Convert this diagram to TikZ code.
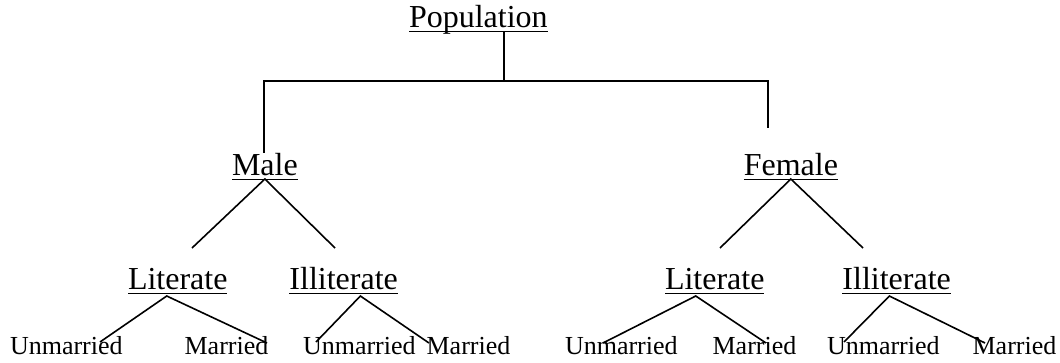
\documentclass[tikz,border=0pt]{standalone}
\usepackage{fontspec}
\setmainfont{Liberation Serif}
\usetikzlibrary{positioning}

\tikzset{
  lbl/.style={inner sep=0pt, outer sep=0pt, font=\fontsize{32}{38}\selectfont},
  sublbl/.style={inner sep=0pt, outer sep=0pt, font=\fontsize{26}{31}\selectfont},
  branch/.style={line width=1.6pt, line join=miter},
  uline/.style={line width=1.8pt}
}

\begin{document}
\begin{tikzpicture}[x=1pt, y=-1pt]
  \useasboundingbox (0,0) rectangle (1060,362);

  % top level
  \node (pop) [lbl, anchor=base west] at (409,27) {Population};
  \node (male) [lbl, anchor=base west] at (232,175) {Male};
  \node (female) [lbl, base right=446pt of male] {Female};

  % second level
  \node (lit1) [lbl, anchor=base west] at (128,289) {Literate};
  \node (ill1) [lbl, base right=62pt of lit1] {Illiterate};
  \node (lit2) [lbl, anchor=base west] at (665,289) {Literate};
  \node (ill2) [lbl, base right=78pt of lit2] {Illiterate};

  % bottom level
  \node (um1) [sublbl, anchor=base west] at (10,354) {Unmarried};
  \node (ma1) [sublbl, base right=62pt of um1] {Married};
  \node (um2) [sublbl, anchor=base west] at (303,354) {Unmarried};
  \node (ma2) [sublbl, base right=11pt of um2] {Married};
  \node (um3) [sublbl, anchor=base west] at (565,354) {Unmarried};
  \node (ma3) [sublbl, base right=35pt of um3] {Married};
  \node (um4) [sublbl, anchor=base west] at (827,354) {Unmarried};
  \node (ma4) [sublbl, base right=33pt of um4] {Married};

  % underlines
  \foreach \n in {pop,male,female,lit1,ill1,lit2,ill2}
    \draw[uline] ([yshift=-4.5pt]\n.base west) -- ([yshift=-4.5pt]\n.base east);

  % joints
  \coordinate (stem) at (504,81);
  \coordinate (barL) at (264,81);
  \coordinate (barR) at (768,81);
  \coordinate (femStem) at (768,128);
  \coordinate (mL) at (192,248);
  \coordinate (mR) at (335,248);
  \coordinate (fL) at (720,248);
  \coordinate (fR) at (863,248);
  \coordinate (l1L) at (100,342);
  \coordinate (l1R) at (267,343);
  \coordinate (i1L) at (316,342);
  \coordinate (i1R) at (429,343);
  \coordinate (l2L) at (603,343);
  \coordinate (l2R) at (766,343);
  \coordinate (i2L) at (844,342);
  \coordinate (i2R) at (985,343);

  \draw[branch] ([yshift=-5pt]pop.base -| stem) -- (stem);
  \draw[branch] (male.north -| barL) -- (barL) -- (barR) -- (femStem);

  \draw[branch] (mL) -- ([yshift=-4pt]male.base) -- (mR);
  \draw[branch] (fL) -- ([yshift=-4pt]female.base) -- (fR);

  \draw[branch] (l1L) -- ([xshift=-11pt,yshift=-7pt]lit1.base) -- (l1R);
  \draw[branch] (i1L) -- ([xshift=16.7pt,yshift=-7pt]ill1.base) -- (i1R);
  \draw[branch] (l2L) -- ([xshift=-19pt,yshift=-7pt]lit2.base) -- (l2R);
  \draw[branch] (i2L) -- ([xshift=-7.3pt,yshift=-7pt]ill2.base) -- (i2R);
\end{tikzpicture}
\end{document}
